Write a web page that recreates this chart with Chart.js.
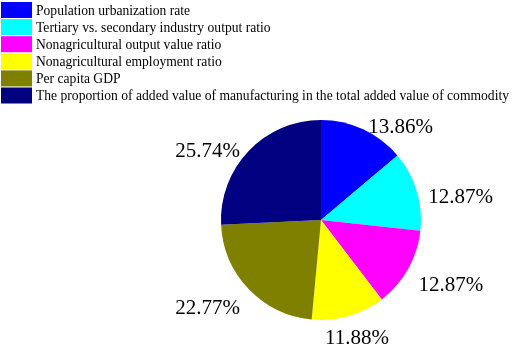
<!DOCTYPE html>
<html><head><meta charset="utf-8">
<script src="https://cdn.jsdelivr.net/npm/chart.js@4/dist/chart.umd.min.js"></script>
<style>html,body{margin:0;padding:0;background:#fff}#wrap{width:512px;height:345px}</style>
</head><body><div id="wrap"><canvas id="c" width="512" height="345"></canvas></div>
<script>
const categories = [
  "Population urbanization rate",
  "Tertiary vs. secondary industry output ratio",
  "Nonagricultural output value ratio",
  "Nonagricultural employment ratio",
  "Per capita GDP",
  "The proportion of added value of manufacturing in the total added value of commodity"
];
const values = [13.86, 12.87, 12.87, 11.88, 22.77, 25.74];
const valueLabels = ["13.86%", "12.87%", "12.87%", "11.88%", "22.77%", "25.74%"];
const colors = ["#0000FF", "#00FFFF", "#FF00FF", "#FFFF00", "#808000", "#000080"];

const customLegend = {
  id: 'customLegend',
  afterDraw(chart) {
    const ctx = chart.ctx;
    ctx.save();
    ctx.font = '13.6px "Liberation Serif", "Times New Roman", serif';
    ctx.textBaseline = 'middle';
    ctx.textAlign = 'left';
    const x0 = 1, y0 = 2, bw = 31, bh = 16, pitch = 17.1;
    categories.forEach((c, i) => {
      const y = y0 + i * pitch;
      ctx.fillStyle = colors[i];
      ctx.fillRect(x0, y, bw, bh);
      ctx.fillStyle = '#000';
      ctx.fillText(c, 36, y + bh / 2 + 1);
    });
    ctx.restore();
  }
};

const sliceLabels = {
  id: 'sliceLabels',
  afterDatasetsDraw(chart) {
    const ctx = chart.ctx;
    const meta = chart.getDatasetMeta(0);
    ctx.save();
    ctx.font = '21px "Liberation Serif", "Times New Roman", serif';
    ctx.fillStyle = '#000';
    ctx.textAlign = 'center';
    ctx.textBaseline = 'middle';
    meta.data.forEach((arc, i) => {
      const p = arc.getProps(['x', 'y', 'startAngle', 'endAngle', 'outerRadius'], true);
      const mid = (p.startAngle + p.endAngle) / 2;
      const dx = Math.cos(mid), dy = Math.sin(mid);
      const w = ctx.measureText(valueLabels[i]).width;
      const r = p.outerRadius;
      const f = Math.max(0, Math.min(1, (Math.abs(dx) - 0.25) * 6));
      const cx = p.x + dx * r * 1.12 + Math.sign(dx) * f * w / 2;
      const cy = p.y + dy * r * 1.13 + 10;
      ctx.fillText(valueLabels[i], cx, cy);
    });
    ctx.restore();
  }
};

new Chart(document.getElementById('c'), {
  type: 'pie',
  data: {
    labels: categories,
    datasets: [{ data: values, backgroundColor: colors, borderWidth: 0 }]
  },
  options: {
    responsive: false,
    animation: false,
    layout: { padding: { top: 120, bottom: 25, left: 221, right: 91 } },
    plugins: { legend: { display: false }, tooltip: { enabled: false } }
  },
  plugins: [customLegend, sliceLabels]
});
</script></body></html>
